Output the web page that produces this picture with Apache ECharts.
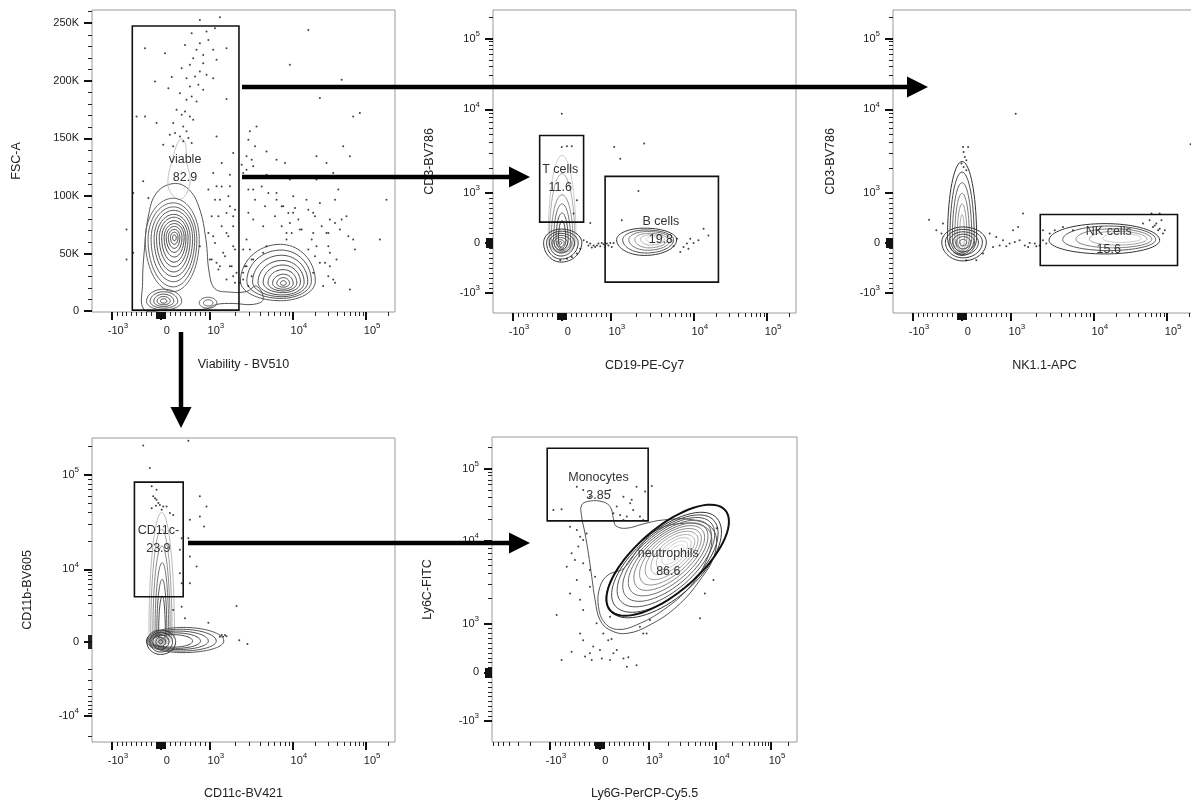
<!DOCTYPE html>
<html>
<head>
<meta charset="utf-8">
<title>Gating strategy</title>
<script src="https://cdn.jsdelivr.net/npm/echarts@6/dist/echarts.min.js"></script>
<style>
  html, body { margin: 0; padding: 0; background: #fff; }
  #chart { width: 1191px; height: 802px; }
</style>
</head>
<body>
<div id="chart"></div>
<script>
// axis anchors: [value, display channel]; channel 0 = left/bottom edge of a plot, 1000 = right/top edge
const biexXAnchors = [[-1000, 66], [0, 227], [1000, 389], [10000, 663], [100000, 905]];
const biexYAnchors = [[-1000, 66], [0, 231], [1000, 396], [10000, 672], [100000, 906]];
const ly6gAnchors = [[-1000, 190], [0, 352], [1000, 513], [10000, 732], [100000, 915]];
const ly6cAnchors = [[-1000, 69], [0, 228], [1000, 388], [10000, 660], [100000, 896]];
const cd11bAnchors = [[-10000, 85], [-1000, 308], [0, 330], [1000, 352], [10000, 568], [100000, 879]];
const biexLabels = [-1000, 0, 1000, 10000, 100000];
const cd11bLabels = [-10000, 0, 10000, 100000];
const fscLabels = [0, 50000, 100000, 150000, 200000, 250000];
const fscRange = [-800, 261500];

// ---- panel 1: Viability - BV510 (channel) vs FSC-A ----
// contour rings: [cx, cy, rxLeft, rxRight, ryBottom, ryTop]
const p1Main = [
  [268, 62000, 92, 86, 45000, 36000], [268, 62000, 83, 78, 41000, 32000], [269, 62500, 74, 70, 37000, 28000],
  [270, 63000, 65, 62, 33000, 24500], [270, 63000, 57, 54, 29000, 21000], [271, 63500, 49, 46, 25000, 18000],
  [271, 63500, 41, 39, 21000, 15000], [272, 64000, 34, 32, 17000, 12000], [272, 64000, 27, 25, 13000, 9500],
  [272, 64000, 20, 18, 9500, 7000], [272, 64000, 13, 12, 6000, 4500], [272, 64000, 6, 6, 3000, 2200]
];
const p1Dead = [
  [622, 26000, 132, 115, 17000, 32000], [624, 26000, 113, 100, 15000, 27000], [626, 25500, 96, 86, 13000, 23000],
  [628, 25000, 80, 72, 11000, 19000], [630, 25000, 65, 58, 9000, 15000], [631, 24500, 50, 45, 7000, 11500],
  [632, 24000, 36, 32, 5000, 8000], [632, 24000, 22, 20, 3200, 5000], [632, 24000, 10, 9, 1600, 2400]
];
const p1Debris = [
  [236, 8500, 56, 60, 7500, 10500], [236, 8500, 44, 47, 6000, 8300], [236, 8500, 32, 34, 4500, 6200],
  [236, 8500, 21, 22, 3000, 4200], [236, 8500, 10, 11, 1600, 2200]
];
const p1Side = [[384, 7000, 30, 28, 4500, 5000], [384, 7000, 16, 15, 2500, 2800]];
const p1Outline = [[172, 1400], [167, 24600], [172, 50600], [186, 82400], [213, 102600], [268, 110700], [318, 106000],
  [354, 89600], [376, 62100], [387, 33200], [406, 19400], [455, 16500], [510, 17000], [543, 21700], [565, 10100],
  [532, 5800], [466, 6600], [411, 5800], [378, 2000], [312, 900], [246, 900]];
const p1Tail = [[252, 108000], [268, 134000], [290, 149000], [307, 147000], [312, 131000], [323, 110000], [290, 97000]];
const p1Dots = [
  [356, 252900], [422, 255200], [329, 241300], [378, 242800], [406, 245700], [356, 232600], [384, 235500], [175, 228300],
  [307, 231200], [345, 226900], [400, 226900], [367, 222500], [334, 219600], [241, 224000], [323, 213900], [367, 215300],
  [411, 218200], [444, 228300], [296, 211000], [356, 208100], [340, 203700], [378, 205200], [312, 202300], [400, 202300],
  [208, 199400], [263, 203200], [252, 193600], [323, 195100], [351, 196500], [367, 192200], [290, 189300], [329, 186400],
  [312, 183500], [345, 182100], [444, 184100], [279, 174800], [307, 173400], [296, 170500], [323, 169100], [334, 166200],
  [268, 163300], [301, 160400], [312, 156100], [274, 154600], [290, 151700], [318, 150300], [301, 147400], [329, 145900],
  [235, 144500], [268, 143100], [411, 151700], [147, 169100], [175, 169100], [213, 163300], [257, 153200], [428, 128600],
  [455, 118500], [400, 119900], [411, 108400], [422, 96800], [455, 91000], [466, 82400], [417, 82400], [444, 67900],
  [466, 56400], [400, 65000], [433, 50600], [455, 39000], [411, 41900], [477, 33200], [356, 56400], [389, 44800],
  [136, 102600], [114, 70800], [114, 44800], [136, 50600], [169, 112700], [186, 98300], [466, 137300], [455, 108400],
  [714, 244200], [653, 213900], [824, 200900], [752, 185000], [884, 172000], [862, 169100], [543, 160400], [521, 156100],
  [516, 148800], [538, 143100], [829, 143100], [576, 138700], [510, 134400], [609, 131500], [637, 128600], [741, 134400],
  [851, 134400], [774, 128600], [796, 119900], [532, 125700], [499, 119900], [576, 118500], [653, 114200], [686, 117000],
  [741, 114200], [813, 105500], [532, 105500], [609, 102600], [664, 99700], [708, 96800], [752, 93900], [802, 96800],
  [972, 96800], [631, 91000], [664, 85300], [730, 85300], [785, 79500], [840, 82400], [516, 85300], [532, 79500],
  [565, 73700], [653, 76600], [686, 70800], [730, 67900], [774, 67900], [818, 70800], [862, 62100], [950, 62100],
  [642, 67900], [510, 62100], [521, 53500], [565, 50600], [576, 56400], [741, 56400], [785, 50600], [807, 44800],
  [752, 41900], [730, 33200], [785, 39000], [796, 27500], [851, 18800], [510, 39000], [532, 44800], [763, 21700],
  [466, 30300], [488, 24600], [499, 27500], [444, 27500], [422, 39000],
  [494, 127100], [510, 122800], [527, 131500], [560, 108300], [582, 102600], [609, 96800], [626, 91000], [648, 85200],
  [670, 89600], [681, 79500], [714, 88100], [736, 82300], [758, 73700], [780, 67900], [802, 76600], [824, 79500],
  [846, 65000], [868, 53500], [780, 56400], [725, 62100], [692, 70800], [659, 67900], [626, 73700], [604, 82300],
  [571, 91000], [538, 96800], [516, 105500], [499, 53500], [527, 44800], [505, 39000], [499, 33200], [527, 30300],
  [516, 21700], [736, 47700], [769, 41900], [780, 30300], [802, 24600], [714, 53500], [642, 62100],
  [384, 105500], [406, 96800], [428, 108300], [450, 99700], [472, 88100], [395, 82300], [428, 73700], [450, 65000],
  [472, 53500], [406, 59200], [439, 47700], [461, 39000], [395, 44800], [417, 36100], [472, 24600], [384, 67900],
  [444, 85200], [466, 73700]
];
const p1Gates = [[133, 485, 800, 247600]];            // [x1, x2, y1, y2]
const p1GateNames = ['viable'];
const p1GatePct = ['82.9'];
const p1GateLabelAt = [[307, 124000]];

// ---- panel 2: CD19-PE-Cy7 vs CD3-BV786 ----
const p2Neg = [
  [225, 232, 58, 68, 64, 45], [225, 232, 48, 56, 54, 38], [224, 232, 38, 45, 44, 31], [224, 232, 29, 34, 34, 24],
  [222, 232, 20, 24, 24, 17], [222, 232, 11, 13, 14, 10], [222, 232, 4, 5, 5, 4]
];
const p2TCol = [
  [228, 240, 46, 46, 42, 280], [228, 240, 42, 42, 40, 220], [228, 240, 36, 36, 38, 150],
  [228, 240, 28, 28, 34, 120], [228, 240, 20, 20, 30, 90], [228, 240, 12, 12, 26, 65]
];
const p2B = [
  [500, 242, 92, 106, 52, 38], [505, 242, 77, 91, 44, 32], [510, 243, 62, 76, 36, 26],
  [515, 243, 47, 61, 28, 20], [520, 244, 33, 46, 20, 14], [525, 244, 19, 31, 12, 8]
];
const p2Dots = [
  [227, 658], [227, 548], [244, 550], [260, 550], [400, 548], [499, 559], [420, 509], [480, 403], [277, 372], [266, 328],
  [425, 306], [321, 297], [695, 278], [711, 256], [678, 240], [662, 231], [640, 229], [629, 218], [645, 212], [618, 201],
  [596, 220], [607, 245], [651, 245], [222, 174], [244, 179], [260, 185], [277, 196], [288, 212], [310, 234], [321, 229],
  [332, 223], [343, 223], [354, 220], [365, 227], [376, 229], [387, 231], [337, 218], [326, 216], [359, 231], [315, 223],
  [348, 229], [370, 218], [381, 223], [392, 218], [299, 240], [398, 231]
];
const p2Gates = [[154, 299, 300, 586], [370, 744, 102, 451]];
const p2GateNames = ['T cells', 'B cells'];
const p2GatePct = ['11.6', '19.8'];
const p2GateLabelAt = [[222, 443], [554, 273]];

// ---- panel 3: NK1.1-APC vs CD3-BV786 ----
const p3Neg = [
  [231, 234, 70, 77, 62, 50], [231, 234, 58, 64, 52, 42], [231, 234, 46, 51, 42, 34],
  [231, 234, 34, 38, 32, 26], [231, 234, 22, 25, 22, 18], [231, 234, 11, 12, 12, 9]
];
const p3Col = [
  [228, 250, 48, 48, 60, 250], [228, 250, 40, 40, 55, 215], [228, 250, 32, 32, 50, 180],
  [228, 250, 24, 24, 45, 145], [228, 250, 16, 16, 40, 110], [228, 250, 8, 8, 32, 75]
];
const p3NK = [
  [700, 240, 185, 180, 45, 55], [712, 242, 152, 155, 36, 45], [724, 243, 120, 130, 28, 35],
  [736, 244, 88, 102, 20, 26], [748, 246, 56, 72, 13, 17]
];
const p3Dots = [
  [405, 658], [982, 557], [231, 548], [248, 548], [233, 531], [237, 515], [242, 504], [226, 493], [233, 482], [242, 471],
  [119, 308], [143, 273], [165, 295], [160, 262], [319, 262], [341, 251], [363, 240], [385, 229], [402, 234], [418, 240],
  [435, 223], [451, 231], [468, 229], [484, 223], [495, 240], [506, 229], [517, 262], [534, 273], [561, 284], [594, 273],
  [429, 328], [413, 284], [396, 273], [495, 273], [825, 295], [847, 306], [858, 284], [869, 295], [880, 278], [886, 306],
  [891, 262], [853, 328], [880, 328], [242, 174], [275, 174], [297, 196], [330, 218], [352, 223], [374, 220], [446, 218],
  [473, 220], [864, 289], [875, 273], [897, 273]
];
const p3Gates = [[486, 939, 157, 325]];
const p3GateNames = ['NK cells'];
const p3GatePct = ['15.6'];
const p3GateLabelAt = [[712, 240]];

// ---- panel 4: CD11c-BV421 vs CD11b-BV605 ----
const p4Blob = [
  [226, 330, 45, 50, 42, 38], [226, 330, 35, 40, 34, 30], [226, 330, 25, 28, 25, 22],
  [226, 330, 15, 17, 16, 14], [226, 330, 6, 7, 7, 6]
];
const p4Horiz = [
  [300, 332, 120, 135, 38, 45], [292, 332, 108, 118, 33, 39], [284, 332, 96, 100, 28, 33],
  [276, 332, 84, 82, 24, 27], [268, 332, 72, 64, 20, 21]
];
const p4Col = [
  [230, 360, 42, 42, 40, 395], [230, 360, 36, 34, 36, 340], [231, 360, 30, 27, 32, 285],
  [232, 360, 24, 21, 28, 230], [232, 360, 18, 15, 24, 175], [232, 360, 12, 10, 20, 120]
];
const p4Dots = [
  [169, 975], [318, 991], [191, 901], [197, 841], [213, 830], [202, 808], [208, 802], [213, 797], [219, 786], [224, 780],
  [235, 775], [246, 775], [257, 753], [268, 747], [356, 808], [378, 775], [356, 742], [323, 731], [370, 709], [296, 670],
  [318, 670], [290, 632], [323, 610], [290, 555], [296, 522], [323, 522], [296, 445], [477, 447], [268, 434], [307, 407],
  [384, 392], [428, 352], [433, 346], [439, 352], [444, 348], [422, 346], [486, 335], [513, 322], [345, 577], [197, 769],
  [211, 777], [230, 764]
];
const p4Gates = [[140, 301, 478, 855]];
const p4GateNames = ['CD11c-'];
const p4GatePct = ['23.9'];
const p4GateLabelAt = [[219, 665]];

// ---- panel 5: Ly6G-PerCP-Cy5.5 vs Ly6C-FITC ----
// rings: [cx, cy, a, a, bLowerRight, bUpperLeft, angle]
const p5Neu = [
  [562, 582, 232, 232, 114, 104, 41], [566, 586, 214, 214, 104, 98, 41], [570, 590, 196, 196, 94, 92, 41],
  [574, 594, 178, 178, 84, 85, 41], [578, 598, 160, 160, 74, 78, 41], [582, 602, 142, 142, 64, 71, 41],
  [586, 606, 124, 124, 55, 63, 41], [590, 610, 106, 106, 46, 55, 41], [594, 613, 88, 88, 37, 46, 41],
  [597, 616, 70, 70, 28, 37, 41], [600, 619, 52, 52, 20, 27, 41], [603, 621, 34, 34, 12, 17, 41]
];
const p5Shoulder = [[431, 569], [381, 548], [354, 509], [349, 444], [371, 389], [414, 369], [474, 384], [562, 433],
  [649, 509], [704, 597], [720, 673], [693, 708], [627, 717], [540, 695], [485, 640]];
const p5MonoLoop = [[294, 777], [321, 790], [365, 787], [389, 769], [398, 733], [407, 708], [442, 701], [496, 715],
  [562, 728], [660, 728], [726, 695], [731, 619], [682, 531], [606, 444], [518, 384], [442, 356], [387, 367],
  [354, 400], [338, 466], [327, 542], [316, 619], [305, 684], [294, 739]];
const p5Dots = [
  [201, 761], [228, 763], [278, 837], [299, 826], [321, 804], [387, 826], [431, 804], [453, 783], [463, 761], [474, 837],
  [502, 821], [524, 839], [398, 750], [420, 744], [442, 739], [485, 739], [409, 772], [458, 794], [431, 728], [496, 728],
  [256, 706], [278, 695], [289, 673], [299, 662], [283, 641], [310, 684], [261, 619], [272, 597], [245, 575], [299, 586],
  [321, 564], [278, 531], [338, 542], [256, 487], [289, 466], [321, 509], [299, 433], [212, 416], [228, 269], [261, 296],
  [289, 356], [299, 334], [332, 313], [321, 291], [305, 280], [327, 269], [360, 274], [387, 269], [398, 291], [381, 334],
  [392, 338], [354, 302], [409, 302], [442, 247], [474, 252], [431, 274], [447, 278], [496, 356], [507, 356], [518, 400],
  [485, 378], [682, 406], [698, 487], [726, 531], [737, 701], [343, 389], [387, 411], [365, 356]
];
const p5Gates = [[181, 512, 725, 963]];
const p5GateNames = ['Monocytes'];
const p5GatePct = ['3.85'];
const p5GateLabelAt = [[349, 839]];
const p5Ellipse = [[576, 596, 250, 250, 105, 105, 41]];
const p5EllipseNames = ['neutrophils'];
const p5EllipsePct = ['86.6'];
const p5EllipseLabelAt = [[578, 590]];

const FONT = '"Liberation Sans", Arial, Helvetica, sans-serif';
const INK = '#222';

// position of a value on a biexponential axis, from its anchors
function chan(anchors, v) {
  const n = anchors.length, lg = Math.log10;
  const first = anchors[0], last = anchors[n - 1];
  if (v > last[0]) {
    const p = anchors[n - 2];
    return last[1] + (lg(v) - lg(last[0])) / (lg(last[0]) - lg(p[0])) * (last[1] - p[1]);
  }
  if (v < first[0]) {
    const w = chan(anchors, 10000) - chan(anchors, 1000);
    return first[1] - (lg(-v) - lg(-first[0])) * w;
  }
  for (let i = 0; i < n - 1; i++) {
    const a = anchors[i][0], ca = anchors[i][1], b = anchors[i + 1][0], cb = anchors[i + 1][1];
    if (v >= a && v <= b) {
      if (a * b > 0 && Math.abs(a) >= 1000 && Math.abs(b) >= 1000) {
        return ca + (lg(Math.abs(v)) - lg(Math.abs(a))) / (lg(Math.abs(b)) - lg(Math.abs(a))) * (cb - ca);
      }
      return ca + (v - a) / (b - a) * (cb - ca);
    }
  }
}

function biexTicks(anchors, labelled) {
  const major = labelled.map(v => chan(anchors, v));
  const minor = [], fine = [];
  for (let k = 1; k <= 5; k++) {
    for (let m = 1; m <= 9; m++) {
      [1, -1].forEach(s => {
        const v = s * m * Math.pow(10, k);
        if (labelled.indexOf(v) >= 0) return;
        const c = chan(anchors, v);
        if (c < 0 || c > 1000) return;
        (Math.abs(v) < 100 ? fine : minor).push(c);
      });
    }
  }
  const names = {};
  labelled.forEach(v => {
    const k = Math.round(Math.log10(Math.abs(v)));
    names[chan(anchors, v).toFixed(3)] = v === 0 ? '{n|0}' : '{n|' + (v < 0 ? '-10' : '10') + '}{e|' + k + '}';
  });
  return { major, minor, fine, range: [0, 1000], fmt: c => names[c.toFixed(3)] || '' };
}

function fscTicks() {
  const minor = [];
  for (let v = 10000; v < fscRange[1]; v += 10000) if (v % 50000) minor.push(v);
  return { major: fscLabels, minor, fine: [], range: fscRange,
    fmt: v => '{n|' + (v === 0 ? '0' : v / 1000 + 'K') + '}' };
}

const RICH = {
  n: { fontSize: 11, fontFamily: FONT, color: INK, lineHeight: 18 },
  e: { fontSize: 8, fontFamily: FONT, color: INK, verticalAlign: 'top' }
};

function axisSet(dim, g, t, name, nameGap) {
  const base = {
    type: 'value', gridIndex: g, position: dim === 'x' ? 'bottom' : 'left',
    min: t.range[0], max: t.range[1],
    axisLine: { show: false, onZero: false }, splitLine: { show: false }
  };
  const main = Object.assign({}, base, {
    name: name, nameLocation: 'middle', nameGap: nameGap,
    nameTextStyle: { fontSize: 12.5, fontFamily: FONT, color: INK },
    axisTick: { show: true, customValues: t.major, length: 8, lineStyle: { color: '#111', width: 2 } },
    axisLabel: dim === 'x'
      ? { show: true, customValues: t.major, formatter: t.fmt, margin: 10, padding: [0, 0, 0, 12], rich: RICH }
      : { show: true, customValues: t.major, formatter: t.fmt, margin: 13, rich: RICH }
  });
  const minor = Object.assign({}, base, {
    axisTick: { show: t.minor.length > 0, customValues: t.minor, length: 4, lineStyle: { color: '#222', width: 1 } },
    axisLabel: { show: false }
  });
  const fine = Object.assign({}, base, {
    axisTick: { show: t.fine.length > 0, customValues: t.fine.length ? t.fine : [0], length: 7, lineStyle: { color: '#111', width: 1 } },
    axisLabel: { show: false }
  });
  return [main, minor, fine];
}

function mix(a, b, t) {
  const ca = [1, 3, 5].map(i => parseInt(a.substr(i, 2), 16));
  const cb = [1, 3, 5].map(i => parseInt(b.substr(i, 2), 16));
  return 'rgb(' + ca.map((x, i) => Math.round(x + (cb[i] - x) * t)).join(',') + ')';
}

// contour rings drawn from their centre and radii through the axes
function ringSeries(g, rings, from, to, width) {
  return {
    type: 'custom', xAxisIndex: 3 * g, yAxisIndex: 3 * g, data: rings, z: 2, silent: true, clip: true,
    renderItem: function (params, api) {
      const c = api.coord([api.value(0), api.value(1)]);
      const s1 = api.size([api.value(2), api.value(4)]);
      const s2 = api.size([api.value(3), api.value(5)]);
      const rot = (api.value(6) || 0) * Math.PI / 180;
      const cr = Math.cos(rot), sr = Math.sin(rot);
      const pts = [];
      for (let k = 0; k < 72; k++) {
        const a = k / 72 * Math.PI * 2, ct = Math.cos(a), st = Math.sin(a);
        const dx = ct * (ct >= 0 ? s2[0] : s1[0]);
        const dy = st * (st >= 0 ? s2[1] : s1[1]);
        pts.push([c[0] + dx * cr - dy * sr, c[1] - (dx * sr + dy * cr)]);
      }
      const t = rings.length > 1 ? params.dataIndex / (rings.length - 1) : 0;
      return { type: 'polygon', shape: { points: pts }, style: { fill: 'none', stroke: mix(from, to, t), lineWidth: width } };
    }
  };
}

function outlineSeries(g, pts, color, width) {
  return {
    type: 'custom', xAxisIndex: 3 * g, yAxisIndex: 3 * g, data: [pts[0]], z: 2, silent: true, clip: true,
    renderItem: function (params, api) {
      return { type: 'polygon', shape: { points: pts.map(p => api.coord(p)), smooth: 0.4 },
        style: { fill: 'none', stroke: color, lineWidth: width } };
    }
  };
}

function dotSeries(g, dots) {
  return { type: 'scatter', xAxisIndex: 3 * g, yAxisIndex: 3 * g, data: dots, symbol: 'circle', symbolSize: 2,
    itemStyle: { color: '#111' }, silent: true, z: 3 };
}

function gateSeries(g, rects) {
  return {
    type: 'custom', xAxisIndex: 3 * g, yAxisIndex: 3 * g, data: rects, z: 4, silent: true,
    renderItem: function (params, api) {
      const p1 = api.coord([api.value(0), api.value(3)]);
      const p2 = api.coord([api.value(1), api.value(2)]);
      return { type: 'rect', shape: { x: p1[0], y: p1[1], width: p2[0] - p1[0], height: p2[1] - p1[1] },
        style: { fill: 'none', stroke: '#111', lineWidth: 1.6 } };
    }
  };
}

function labelSeries(g, at, names, pcts) {
  return {
    type: 'custom', xAxisIndex: 3 * g, yAxisIndex: 3 * g, data: at, z: 5, silent: true,
    renderItem: function (params, api) {
      const c = api.coord([api.value(0), api.value(1)]);
      return { type: 'text', x: c[0], y: c[1],
        style: { text: names[params.dataIndex] + '\n' + pcts[params.dataIndex], textAlign: 'center',
          textVerticalAlign: 'middle', font: '12.5px ' + FONT, fill: '#333', lineHeight: 18 } };
    }
  };
}

const grids = [
  { left: 92, top: 10, width: 303, height: 302 },
  { left: 493, top: 10, width: 303, height: 303 },
  { left: 893, top: 10, width: 303, height: 303 },
  { left: 92, top: 438, width: 303, height: 304 },
  { left: 492, top: 437, width: 305, height: 305 }
].map(g => Object.assign(g, { show: true, borderColor: '#9a9a9a', borderWidth: 1, backgroundColor: '#fff',
  containLabel: false, outerBoundsMode: 'none' }));

const xAxes = [].concat(
  axisSet('x', 0, biexTicks(biexXAnchors, biexLabels), 'Viability - BV510', 46),
  axisSet('x', 1, biexTicks(biexXAnchors, biexLabels), 'CD19-PE-Cy7', 46),
  axisSet('x', 2, biexTicks(biexXAnchors, biexLabels), 'NK1.1-APC', 46),
  axisSet('x', 3, biexTicks(biexXAnchors, biexLabels), 'CD11c-BV421', 45),
  axisSet('x', 4, biexTicks(ly6gAnchors, biexLabels), 'Ly6G-PerCP-Cy5.5', 45)
);
const yAxes = [].concat(
  axisSet('y', 0, fscTicks(), 'FSC-A', 69),
  axisSet('y', 1, biexTicks(biexYAnchors, biexLabels), 'CD3-BV786', 57),
  axisSet('y', 2, biexTicks(biexYAnchors, biexLabels), 'CD3-BV786', 56),
  axisSet('y', 3, biexTicks(cd11bAnchors, cd11bLabels), 'CD11b-BV605', 58),
  axisSet('y', 4, biexTicks(ly6cAnchors, biexLabels), 'Ly6C-FITC', 58)
);

const series = [
  // panel 1
  outlineSeries(0, p1Outline, '#555555', 1),
  outlineSeries(0, p1Tail, '#c4c4c4', 1),
  ringSeries(0, p1Main, '#666666', '#333333', 1),
  ringSeries(0, p1Dead, '#555555', '#3a3a3a', 1),
  ringSeries(0, p1Debris, '#555555', '#333333', 1),
  ringSeries(0, p1Side, '#555555', '#555555', 1),
  dotSeries(0, p1Dots),
  gateSeries(0, p1Gates),
  labelSeries(0, p1GateLabelAt, p1GateNames, p1GatePct),
  // panel 2
  ringSeries(1, p2TCol, '#cccccc', '#333333', 1),
  ringSeries(1, p2Neg, '#333333', '#444444', 1),
  ringSeries(1, p2B, '#333333', '#d0d0d0', 1),
  dotSeries(1, p2Dots),
  gateSeries(1, p2Gates),
  labelSeries(1, p2GateLabelAt, p2GateNames, p2GatePct),
  // panel 3
  ringSeries(2, p3Col, '#333333', '#aaaaaa', 1),
  ringSeries(2, p3Neg, '#333333', '#444444', 1),
  ringSeries(2, p3NK, '#333333', '#c8c8c8', 1),
  dotSeries(2, p3Dots),
  gateSeries(2, p3Gates),
  labelSeries(2, p3GateLabelAt, p3GateNames, p3GatePct),
  // panel 4
  ringSeries(3, p4Col, '#bbbbbb', '#444444', 1),
  ringSeries(3, p4Horiz, '#555555', '#444444', 1),
  ringSeries(3, p4Blob, '#333333', '#333333', 1),
  dotSeries(3, p4Dots),
  gateSeries(3, p4Gates),
  labelSeries(3, p4GateLabelAt, p4GateNames, p4GatePct),
  // panel 5
  outlineSeries(4, p5MonoLoop, '#555555', 1),
  outlineSeries(4, p5Shoulder, '#555555', 1),
  ringSeries(4, p5Neu, '#333333', '#dddddd', 1),
  dotSeries(4, p5Dots),
  gateSeries(4, p5Gates),
  Object.assign(ringSeries(4, p5Ellipse, '#111111', '#111111', 2), { z: 4 }),
  labelSeries(4, p5GateLabelAt, p5GateNames, p5GatePct),
  labelSeries(4, p5EllipseLabelAt, p5EllipseNames, p5EllipsePct)
];

// gating arrows between the plots
function arrow(x1, y1, x2, y2) {
  const horiz = y1 === y2;
  const head = horiz
    ? [[x2 - 21, y2 - 10.5], [x2, y2], [x2 - 21, y2 + 10.5]]
    : [[x2 - 10.5, y2 - 21], [x2, y2], [x2 + 10.5, y2 - 21]];
  return [
    { type: 'line', z: 100, shape: { x1, y1, x2: horiz ? x2 - 19 : x2, y2: horiz ? y2 : y2 - 19 },
      style: { stroke: '#000', lineWidth: 4.5 } },
    { type: 'polygon', z: 100, shape: { points: head }, style: { fill: '#000' } }
  ];
}

const chart = echarts.init(document.getElementById('chart'), null, { renderer: 'canvas' });
chart.setOption({
  animation: false,
  backgroundColor: '#fff',
  grid: grids,
  xAxis: xAxes,
  yAxis: yAxes,
  series: series,
  graphic: [].concat(
    arrow(242, 87, 928, 87),
    arrow(242, 177, 530, 177),
    arrow(181, 332, 181, 428),
    arrow(188, 543, 530, 543)
  )
});
</script>
</body>
</html>
